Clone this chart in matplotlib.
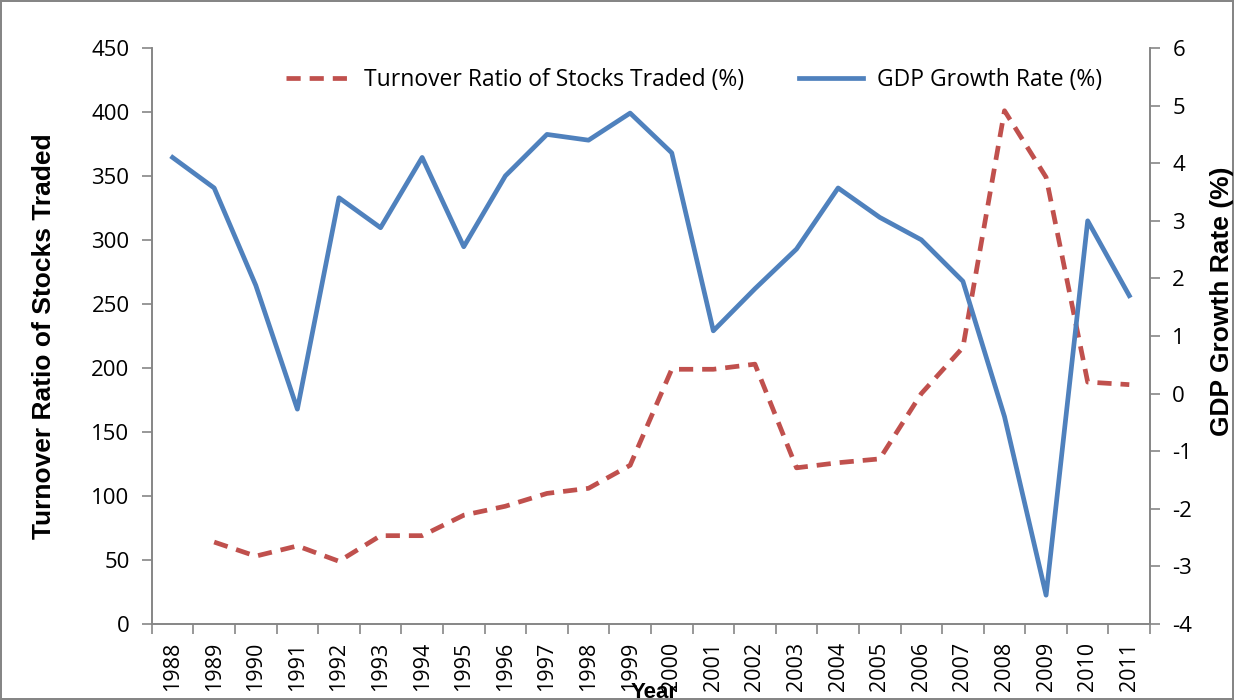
import matplotlib

matplotlib.use("Agg")
import matplotlib.pyplot as plt
import numpy as np

years = [str(y) for y in range(1988, 2012)]
turnover = [np.nan, 64, 53, 61, 49, 69, 69, 85, 92, 102, 106, 124,
            199, 199, 203, 122, 126, 129, 180, 216, 401, 349, 189, 187]
gdp = [4.1, 3.57, 1.88, -0.27, 3.4, 2.88, 4.1, 2.55, 3.78, 4.5, 4.4, 4.87,
       4.18, 1.09, 1.82, 2.51, 3.57, 3.06, 2.67, 1.95, -0.4, -3.5, 3.0, 1.7]

RED = "#C0504D"
BLUE = "#4F81BD"
GRAY = "#868686"
TICK_FONT = "Open Sans"
LABEL_FONT = "Liberation Sans"

plt.rcParams["axes.unicode_minus"] = False

fig = plt.figure(figsize=(12.34, 7), dpi=100)
fig.patch.set_edgecolor(GRAY)
fig.patch.set_linewidth(1.5)
ax = fig.add_axes([0.123, 0.1086, 0.809, 0.8228])
ax2 = ax.twinx()

x = np.arange(len(years))
l1, = ax.plot(x, turnover, color=RED, lw=3.4, ls=(0, (3, 1.9)),
              label="Turnover Ratio of Stocks Traded (%)")
l2, = ax2.plot(x, gdp, color=BLUE, lw=3.4, label="GDP Growth Rate (%)")

ax.set_xlim(-0.5, len(years) - 0.5)
ax.set_ylim(0, 450)
ax.set_yticks(np.arange(0, 451, 50))
ax2.set_ylim(-4, 6)
ax2.set_yticks(np.arange(-4, 7, 1))

ax.set_xticks(x)
ax.set_xticklabels(years, rotation=90, fontsize=15.5, family=TICK_FONT)
ax.set_xticks(np.arange(-0.5, len(years), 1), minor=True)
ax.tick_params(axis="x", which="major", length=0, pad=13)
ax.tick_params(axis="x", which="minor", length=7, color=GRAY, width=1.2)
ax.tick_params(axis="y", length=7, color=GRAY, width=1.2, labelsize=16, pad=9)
ax2.tick_params(axis="y", length=7, color=GRAY, width=1.2, labelsize=16, pad=9)
for lab in ax.get_yticklabels() + ax2.get_yticklabels():
    lab.set_family(TICK_FONT)

for a in (ax, ax2):
    a.spines["top"].set_visible(False)
    for s in ("left", "right", "bottom"):
        a.spines[s].set_color(GRAY)
        a.spines[s].set_linewidth(1.2)

fig.text(0.036, 0.52, "Turnover Ratio of Stocks Traded", rotation=90,
         ha="center", va="center", fontsize=19, fontweight="bold", family=LABEL_FONT)
fig.text(0.99, 0.57, "GDP Growth Rate (%)", rotation=90,
         ha="center", va="center", fontsize=19, fontweight="bold", family=LABEL_FONT)
# in the source the axis title sits on top of the year labels
fig.text(0.53, 0.01, "Year", ha="center", va="center",
         fontsize=16, fontweight="bold", family=LABEL_FONT)

ax.legend(handles=[l1, l2], loc="center", bbox_to_anchor=(0.543, 0.944),
          ncol=2, frameon=False, handlelength=2.8, handletextpad=0.6,
          columnspacing=2.4, prop={"family": TICK_FONT, "size": 16.5})

plt.savefig("out.png", dpi=100)
plt.close()
